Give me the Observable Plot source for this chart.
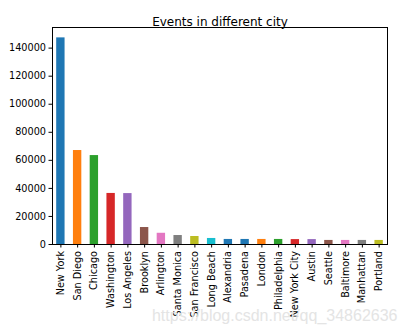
<!DOCTYPE html>
<html><head><meta charset="utf-8">
<script src="https://cdn.jsdelivr.net/npm/d3@7"></script>
<script src="https://cdn.jsdelivr.net/npm/@observablehq/plot@0.6"></script>
<style>body{margin:0;background:#fff}</style>
</head><body><div id="chart"></div>
<script>
const cities = ["New York","San Diego","Chicago","Washington","Los Angeles","Brooklyn","Arlington","Santa Monica","San Francisco","Long Beach","Alexandria","Pasadena","London","Philadelphia","New York City","Austin","Seattle","Baltimore","Manhattan","Portland"];
const events = [147300,67000,63400,36400,36300,12100,8000,6400,5700,4300,3600,3600,3600,3600,3500,3500,2900,2900,2900,2900];
const barColors = ["#1f77b4","#ff7f0e","#2ca02c","#d62728","#9467bd","#8c564b","#e377c2","#7f7f7f","#bcbd22","#17becf",
                   "#1f77b4","#1f77b4","#ff7f0e","#2ca02c","#d62728","#9467bd","#8c564b","#e377c2","#7f7f7f","#bcbd22"];
const yTicks = [0,20000,40000,60000,80000,100000,120000,140000];
const titleText = "Events in different city";
const watermark = "https://blog.csdn.net/qq_34862636";

const data = cities.map((c,i)=>({city:c, value:events[i], color:barColors[i]}));

const chart = Plot.plot({
  width: 402, height: 332,
  marginLeft: 52, marginRight: 15, marginTop: 27, marginBottom: 88,
  style: {fontFamily: "DejaVu Sans", fontSize: "9.7px", color: "#000", background: "#fff"},
  color: {type: "identity"},
  x: {domain: cities, paddingInner: 0.5, paddingOuter: 0.25, round: false, label: null, tickRotate: -90, tickSize: 3.5, tickPadding: 3},
  y: {domain: [0, 154700], ticks: yTicks, tickFormat: d => String(d), label: null, tickSize: 3.5, tickPadding: 3},
  marks: [
    Plot.barY(data, {x: "city", y: "value", fill: "color"}),
    Plot.frame({stroke: "#000", strokeWidth: 1}),
    Plot.text([titleText], {frameAnchor: "top", dy: -10, text: d => d, fontSize: 12, fill: "#000"}),
    Plot.text([watermark], {frameAnchor: "bottom-right", dy: 76, dx: 10, text: d => d, fontSize: 16, fill: "#e4e4e4", textAnchor: "end", fontFamily: "Arial, Liberation Sans"})
  ]
});
document.getElementById("chart").appendChild(chart);
</script>
</body></html>
